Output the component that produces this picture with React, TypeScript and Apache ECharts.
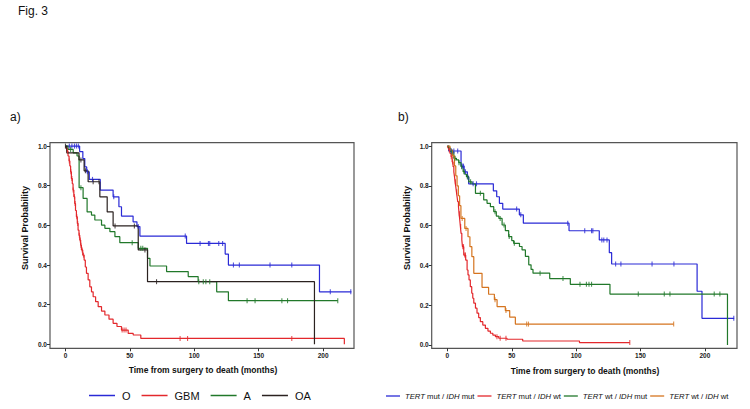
import React, { useEffect, useRef } from 'react';
import * as echarts from 'echarts';

const X_TICKS = [0, 50, 100, 150, 200];
const Y_TICKS = [0, 0.2, 0.4, 0.6, 0.8, 1.0];

// ---------- Panel a ----------
const O_NAME = 'O';
const O_T = [11, 13.5, 15, 16.5, 18.5, 27, 37, 41.5, 43.5, 52.5, 55.5, 57.8, 94, 124, 126.5, 197.2];
const O_S = [0.972, 0.937, 0.895, 0.87, 0.832, 0.778, 0.744, 0.694, 0.647, 0.618, 0.594, 0.546, 0.509, 0.455, 0.4, 0.265];
const O_CENS = [3, 5, 7, 8.5, 10, 17, 21, 37.5, 56.5, 93, 104.5, 111, 112, 119, 122, 130.4, 135, 158.8, 175.7, 205.6, 221.5];
const O_END = 222;

const GBM_NAME = 'GBM';
const GBM_T = [0.5, 1.2, 2, 2.8, 3.4, 4, 4.6, 5.3, 5.9, 6.5, 7.2, 7.8, 8.5, 9.2, 9.8, 10.5, 11.1, 11.8, 12.4, 13.4, 14.5, 15.4, 16.3, 17.6, 18.9, 20.2, 21.5, 23.4, 25.4, 28, 30.6, 33.8, 37, 40, 43.5, 48.7, 52.6, 58.5, 216.5];
const GBM_S = [0.99, 0.975, 0.95, 0.925, 0.9, 0.87, 0.836, 0.81, 0.778, 0.745, 0.71, 0.675, 0.643, 0.61, 0.576, 0.55, 0.526, 0.5, 0.476, 0.45, 0.425, 0.39, 0.358, 0.325, 0.29, 0.265, 0.24, 0.215, 0.19, 0.168, 0.148, 0.127, 0.106, 0.09, 0.072, 0.055, 0.047, 0.03, 0];
const GBM_CENS = [1.5, 3, 4.2, 5, 6, 7, 7.5, 8.8, 9.5, 10.8, 11.5, 12, 13, 14, 44, 45.5, 47, 89, 94.8, 175.7];
const GBM_END = 216.5;

const A_NAME = 'A';
const A_T = [2, 6, 9, 10.6, 13.7, 16.8, 20.2, 22.8, 28, 30.6, 34.5, 38.4, 42.2, 56.5, 63.7, 65.6, 78.5, 95.3, 103, 117.4, 126.5];
const A_S = [0.983, 0.966, 0.95, 0.79, 0.736, 0.668, 0.652, 0.627, 0.601, 0.585, 0.568, 0.543, 0.513, 0.484, 0.434, 0.395, 0.367, 0.342, 0.316, 0.265, 0.22];
const A_CENS = [4, 12, 51.8, 58.5, 60, 103.5, 107, 109, 112, 141, 147.2, 168, 172.4, 211.4];
const A_END = 211.4;

const OA_NAME = 'OA';
const OA_T = [1, 10.5, 14.5, 17.6, 26.7, 32.4, 37, 56.5, 63.7, 193.3];
const OA_S = [0.966, 0.93, 0.875, 0.82, 0.744, 0.668, 0.597, 0.476, 0.316, 0];
const OA_CENS = [0, 12, 15.5, 21.5, 26, 38.5, 53.5, 61.7, 70.7];
const OA_END = 193.3;

// ---------- Panel b ----------
const MM_NAME = 'TERT mut / IDH mut';
const MM_T = [1, 10.6, 13, 15.5, 16.5, 35.7, 38.3, 40.4, 43, 55.9, 59, 94.5, 118, 125.8, 127.6, 194, 197.8];
const MM_S = [0.975, 0.899, 0.87, 0.843, 0.81, 0.775, 0.745, 0.712, 0.683, 0.654, 0.612, 0.574, 0.528, 0.464, 0.407, 0.27, 0.134];
const MM_CENS = [3, 5, 8, 11.5, 12.5, 14, 16, 20, 22.6, 53.8, 57, 93.5, 106.7, 112, 113, 120, 121.5, 124, 130.7, 134.8, 159, 176, 222.5];
const MM_END = 222.8;

const MW_NAME = 'TERT mut / IDH wt';
const MW_T = [0.5, 1.1, 2, 2.9, 3.7, 4.4, 5, 5.5, 6, 6.5, 7, 7.5, 8, 8.6, 9.1, 9.6, 10.1, 10.6, 11.2, 11.7, 12.7, 14.2, 15.3, 16, 16.8, 17.8, 18.9, 19.7, 20.5, 21.8, 23, 24.3, 25.6, 27.5, 29.5, 31.5, 33.4, 35.3, 37.3, 39.9, 46.3, 58.5, 102.6];
const MW_S = [0.99, 0.98, 0.963, 0.946, 0.92, 0.896, 0.87, 0.846, 0.82, 0.796, 0.77, 0.746, 0.72, 0.695, 0.66, 0.628, 0.595, 0.561, 0.528, 0.494, 0.452, 0.427, 0.377, 0.352, 0.327, 0.293, 0.26, 0.235, 0.21, 0.185, 0.16, 0.138, 0.117, 0.1, 0.084, 0.07, 0.059, 0.05, 0.042, 0.034, 0.029, 0.02, 0.012];
const MW_CENS = [1.5, 3, 4, 6.2, 7.2, 9.3, 10.3, 12, 12.5, 13.5, 14, 38.5, 41, 45.5, 141.7];
const MW_END = 141.7;

const WM_NAME = 'TERT wt / IDH mut';
const WM_T = [1, 2.5, 5, 7, 8.8, 10.6, 12.2, 13.5, 14.8, 16.6, 19.2, 21.8, 28.2, 30.8, 33.4, 36, 38, 40, 42.5, 45, 47.6, 50, 51.5, 56, 58, 60.6, 63.2, 65, 66.5, 79.5, 95.5, 126.3, 217.6];
const WM_S = [0.99, 0.97, 0.938, 0.93, 0.916, 0.896, 0.871, 0.858, 0.846, 0.82, 0.809, 0.762, 0.729, 0.712, 0.695, 0.67, 0.648, 0.636, 0.603, 0.575, 0.545, 0.525, 0.511, 0.495, 0.478, 0.445, 0.403, 0.38, 0.361, 0.334, 0.305, 0.256, 0];
const WM_CENS = [3.5, 6, 9, 11, 12.8, 15.5, 18, 25.6, 37, 41, 44, 48, 52, 72, 89.8, 103, 108, 110, 112, 148.3, 168.5, 172.9, 207.3, 211.7];
const WM_END = 217.6;

const WW_NAME = 'TERT wt / IDH wt';
const WW_T = [2, 4, 5.5, 6.5, 7.5, 8.5, 9.5, 10.5, 13.5, 16, 17.5, 19, 20.5, 26.9, 32, 36.5, 38.6, 45, 48.4, 52.8];
const WW_S = [0.98, 0.95, 0.9, 0.85, 0.8, 0.75, 0.7, 0.636, 0.586, 0.544, 0.494, 0.444, 0.36, 0.29, 0.255, 0.228, 0.193, 0.173, 0.14, 0.105];
const WW_CENS = [11.5, 14.5, 37, 45.5, 61.6, 63, 175.8];
const WW_END = 175.8;

const BLUE = '#2a2ad6';
const RED = '#e3282c';
const GREEN = '#21782a';
const BLACK = '#2b2220';
const ORANGE = '#d5741f';

const FONT = '"Liberation Sans", Arial, sans-serif';

function curve(t: number[], s: number[], end: number) {
  const pts: number[][] = [[0, 1]];
  for (let i = 0; i < t.length; i++) pts.push([t[i], s[i]]);
  const lastT = t[t.length - 1];
  if (end > lastT) pts.push([end, s[s.length - 1]]);
  return pts;
}

function survAt(t: number[], s: number[], c: number) {
  let v = 1;
  for (let i = 0; i < t.length; i++) if (t[i] <= c) v = s[i];
  return v;
}

function censors(t: number[], s: number[], cens: number[]) {
  return cens.map((c) => [c, survAt(t, s, c)]);
}

function kmSeries(name: string, color: string, t: number[], s: number[], cens: number[], end: number, idx: number) {
  return [
    {
      name,
      type: 'line',
      step: 'end',
      symbol: 'none',
      xAxisIndex: idx,
      yAxisIndex: idx,
      data: curve(t, s, end),
      lineStyle: { color, width: 1.2 },
      itemStyle: { color },
      z: 3,
    },
    {
      name: name + ' censored',
      type: 'scatter',
      xAxisIndex: idx,
      yAxisIndex: idx,
      data: censors(t, s, cens),
      symbol: 'rect',
      symbolSize: [1.1, 5],
      itemStyle: { color },
      silent: true,
      z: 4,
    },
  ];
}

function xAxis(idx: number, min: number, max: number) {
  return {
    type: 'value',
    gridIndex: idx,
    min,
    max,
    axisLine: { show: false, onZero: false },
    axisTick: { show: true, length: 3, customValues: X_TICKS, lineStyle: { color: '#333', width: 1 } },
    axisLabel: {
      customValues: X_TICKS,
      fontSize: 6.5,
      fontWeight: 'bold',
      fontFamily: FONT,
      color: '#222',
      margin: 4,
    },
    splitLine: { show: false },
  };
}

function yAxis(idx: number, min: number, max: number) {
  return {
    type: 'value',
    gridIndex: idx,
    min,
    max,
    axisLine: { show: false, onZero: false },
    axisTick: { show: true, length: 3, customValues: Y_TICKS, lineStyle: { color: '#333', width: 1 } },
    axisLabel: {
      customValues: Y_TICKS,
      formatter: (v: number) => v.toFixed(1),
      fontSize: 6.5,
      fontWeight: 'bold',
      fontFamily: FONT,
      color: '#222',
      margin: 3,
    },
    splitLine: { show: false },
  };
}

export default function App() {
  const ref = useRef<HTMLDivElement>(null);
  useEffect(() => {
    if (!ref.current) return;
    const chart = echarts.init(ref.current, undefined, { renderer: 'svg' });
    const yTitle = { fontSize: 9, fontWeight: 'bold', fontFamily: FONT, fill: '#111' };
    const xTitle = { fontSize: 8.5, fontWeight: 'bold', fontFamily: FONT, fill: '#111' };
    chart.setOption({
      animation: false,
      backgroundColor: '#ffffff',
      grid: [
        { left: 50, top: 142.7, width: 304, height: 205.6, show: true, borderColor: '#555', borderWidth: 1.2, backgroundColor: 'transparent' },
        { left: 431.7, top: 142.7, width: 305.3, height: 205.6, show: true, borderColor: '#555', borderWidth: 1.2, backgroundColor: 'transparent' },
      ],
      xAxis: [xAxis(0, -12, 224), xAxis(1, -12.2, 225)],
      yAxis: [yAxis(0, -0.02, 1.017), yAxis(1, -0.0166, 1.0166)],
      legend: [
        {
          data: [O_NAME, GBM_NAME, A_NAME, OA_NAME],
          left: 89,
          top: 390,
          padding: 0,
          icon: 'rect',
          itemWidth: 26,
          itemHeight: 1.5,
          itemGap: 11,
          textStyle: { fontSize: 11, fontFamily: FONT, color: '#111', padding: [0, 0, 0, 2] },
          selectedMode: false,
        },
        {
          data: [MM_NAME, MW_NAME, WM_NAME, WW_NAME],
          left: 386,
          top: 392,
          padding: 0,
          icon: 'rect',
          itemWidth: 14,
          itemHeight: 1.3,
          itemGap: 3,
          formatter: (n: string) => n.replace(/(TERT|IDH)/g, '{i|$1}'),
          textStyle: {
            fontSize: 7.7,
            fontFamily: FONT,
            color: '#111',
            rich: { i: { fontSize: 7.7, fontFamily: FONT, fontStyle: 'italic', color: '#111' } },
          },
          selectedMode: false,
        },
      ],
      graphic: [
        { type: 'text', left: 18, top: 5, style: { text: 'Fig. 3', fontSize: 12, fontFamily: FONT, fill: '#111' } },
        { type: 'text', left: 10, top: 111, style: { text: 'a)', fontSize: 12, fontFamily: FONT, fill: '#111' } },
        { type: 'text', left: 398, top: 111, style: { text: 'b)', fontSize: 12, fontFamily: FONT, fill: '#111' } },
        { type: 'text', x: 25, y: 228, rotation: Math.PI / 2, style: { text: 'Survival Probability', align: 'center', verticalAlign: 'middle', ...yTitle } },
        { type: 'text', x: 407, y: 228, rotation: Math.PI / 2, style: { text: 'Survival Probability', align: 'center', verticalAlign: 'middle', ...yTitle } },
        { type: 'text', x: 203, y: 370, style: { text: 'Time from surgery to death (months)', align: 'center', verticalAlign: 'middle', ...xTitle } },
        { type: 'text', x: 585, y: 371, style: { text: 'Time from surgery to death (months)', align: 'center', verticalAlign: 'middle', ...xTitle } },
      ],
      series: [
        ...kmSeries(O_NAME, BLUE, O_T, O_S, O_CENS, O_END, 0),
        ...kmSeries(GBM_NAME, RED, GBM_T, GBM_S, GBM_CENS, GBM_END, 0),
        ...kmSeries(A_NAME, GREEN, A_T, A_S, A_CENS, A_END, 0),
        ...kmSeries(OA_NAME, BLACK, OA_T, OA_S, OA_CENS, OA_END, 0),
        ...kmSeries(MM_NAME, BLUE, MM_T, MM_S, MM_CENS, MM_END, 1),
        ...kmSeries(MW_NAME, RED, MW_T, MW_S, MW_CENS, MW_END, 1),
        ...kmSeries(WM_NAME, GREEN, WM_T, WM_S, WM_CENS, WM_END, 1),
        ...kmSeries(WW_NAME, ORANGE, WW_T, WW_S, WW_CENS, WW_END, 1),
      ],
    });
    return () => chart.dispose();
  }, []);
  return <div ref={ref} style={{ position: 'fixed', left: 0, top: 0, width: 750, height: 409 }} />;
}
